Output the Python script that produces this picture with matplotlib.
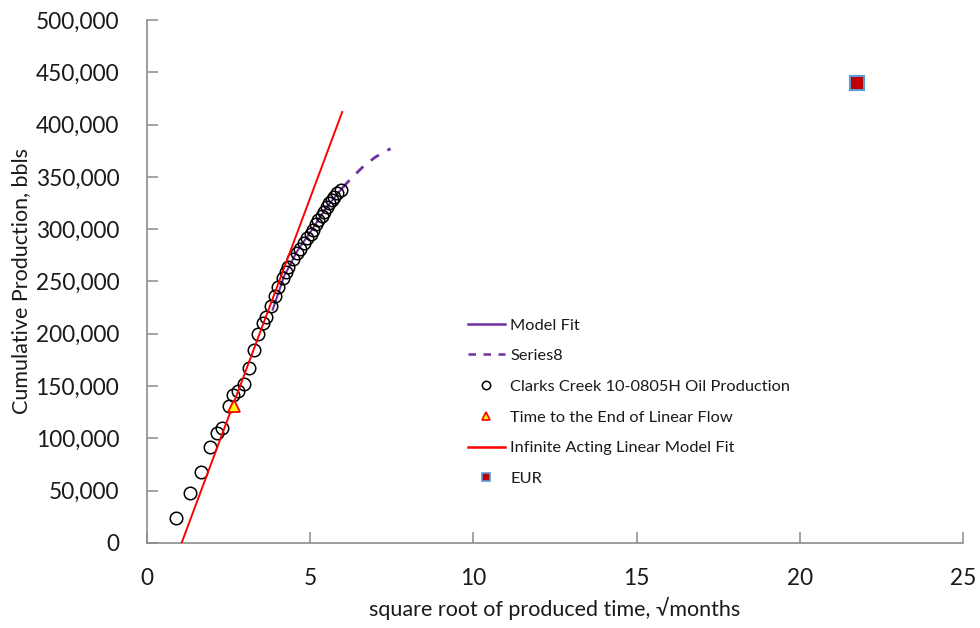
import matplotlib.pyplot as plt
from matplotlib.lines import Line2D
import numpy as np

plt.rcParams['font.family'] = ['Lato', 'DejaVu Sans']

# Production history (sqrt of months vs cumulative oil, bbls)
sqrt_t = [0.89, 1.32, 1.65, 1.93, 2.15, 2.31, 2.52, 2.64, 2.80, 2.97, 3.12,
          3.28, 3.41, 3.56, 3.65, 3.80, 3.92, 4.02, 4.16, 4.26, 4.33, 4.48,
          4.61, 4.69, 4.81, 4.91, 5.01, 5.10, 5.18, 5.25, 5.35, 5.42, 5.51,
          5.59, 5.66, 5.74, 5.83, 5.93]
cum_oil = [24000, 48000, 68000, 92000, 105000, 110000, 131000, 141500, 145000,
           152000, 167000, 184500, 199500, 210600, 215800, 226600, 236100,
           244400, 253000, 259400, 264200, 271200, 277000, 281000, 286500,
           291300, 295100, 299200, 304700, 308800, 312900, 316700, 320900,
           324800, 327900, 331100, 334300, 337500]

# Model fit over the producing history and its forecast tail
model_x = [3.85, 4.2, 4.6, 5.0, 5.5, 6.0]
model_y = [223000, 255000, 279000, 297000, 321000, 340000]
fcst_x = [6.0, 6.3, 6.63, 7.0, 7.46]
fcst_y = [340000, 350000, 360000, 369000, 377000]

# Infinite acting linear flow straight line
ial_x = [1.06, 5.98]
ial_y = [0, 412000]

# End of linear flow and EUR
elf_x, elf_y = [2.66], [130500]
eur_x, eur_y = [21.75], [440000]

fig = plt.figure(figsize=(9.8, 6.28), dpi=100)
ax = fig.add_axes([0.15, 0.1354, 0.8327, 0.8328])

ax.plot(model_x, model_y, color='#7030a0', lw=1.5, zorder=2)
ax.plot(fcst_x, fcst_y, color='#7030a0', lw=2, ls=(0, (3.5, 3.5)), zorder=2)
ax.plot(sqrt_t, cum_oil, ls='none', marker='o', ms=9, mfc='none',
        mec='black', mew=1.1, zorder=3)
ax.plot(ial_x, ial_y, color='#ff0000', lw=1.4, zorder=4)
ax.plot(elf_x, elf_y, ls='none', marker='^', ms=9, mfc='#ffff00',
        mec='#ff0000', mew=1.3, zorder=5)
ax.plot(eur_x, eur_y, ls='none', marker='s', ms=9.5, mfc='#c00000',
        mec='#5b9bd5', mew=1.5, zorder=5)

ax.set_xlim(0, 25)
ax.set_ylim(0, 500000)
ax.set_xticks(np.arange(0, 26, 5))
ax.set_yticks(np.arange(0, 500001, 50000))
ax.yaxis.set_major_formatter(plt.FuncFormatter(lambda v, p: f'{int(v):,}'))

for side in ['top', 'right']:
    ax.spines[side].set_visible(False)
for side in ['left', 'bottom']:
    ax.spines[side].set_color('#8c8c8c')
    ax.spines[side].set_linewidth(1.2)
ax.tick_params(direction='in', length=8, width=1.1, color='#8c8c8c',
               labelsize=16.3, labelcolor='#1a1a1a')
ax.tick_params(axis='x', pad=18)
ax.tick_params(axis='y', pad=20)

ax.set_xlabel('square root of produced time, \u221amonths', fontsize=15.5,
              color='#1a1a1a', labelpad=6)
ax.set_ylabel('Cumulative Production, bbls', fontsize=15.5,
              color='#1a1a1a', labelpad=3)

handles = [
    Line2D([], [], color='#7030a0', lw=1.8),
    Line2D([], [], color='#7030a0', lw=1.8, ls=(0, (3, 3))),
    Line2D([], [], ls='none', marker='o', ms=6, mfc='none', mec='black', mew=1.1),
    Line2D([], [], ls='none', marker='^', ms=6, mfc='#ffff00', mec='#ff0000', mew=1.2),
    Line2D([], [], color='#ff0000', lw=1.8),
    Line2D([], [], ls='none', marker='s', ms=6, mfc='#c00000', mec='#5b9bd5', mew=1.2),
]
labels = ['Model Fit', 'Series8', 'Clarks Creek 10-0805H Oil Production',
          'Time to the End of Linear Flow', 'Infinite Acting Linear Model Fit',
          'EUR']
fig.legend(handles, labels, loc='upper left', bbox_to_anchor=(0.4705, 0.504),
           frameon=False, fontsize=11.8, handlelength=2.3, handletextpad=0.3,
           labelspacing=0.99, labelcolor='#1a1a1a', borderaxespad=0)

fig.savefig('out.png', dpi=100)
